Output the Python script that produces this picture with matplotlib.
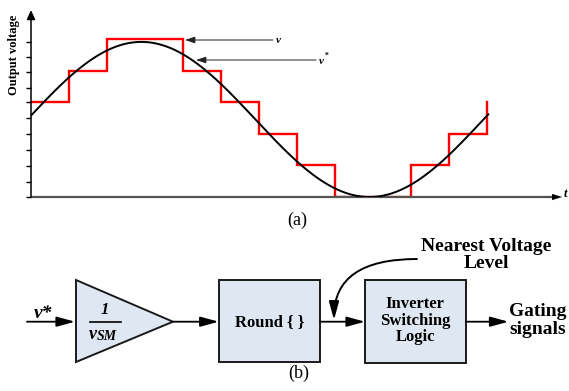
import numpy as np
import matplotlib.pyplot as plt
from matplotlib.patches import Polygon, Rectangle, FancyArrowPatch

plt.rcParams['font.family'] = ['Liberation Serif', 'DejaVu Serif']

# staircase output v: one level per sample interval (last entry = final jump)
step_edges = [0, 1, 2, 3, 4, 5, 6, 7, 8, 9, 10, 11, 12]
step_levels = [3, 4, 5, 5, 4, 3, 2, 1, 0, 0, 1, 2, 3]

# reference sinusoid v* (in level units)
ref_offset = 2.455
ref_amp = 2.455
ref_period = 12
ref_phase = 0.05
ref_t_end = 12.03

# tick marks on the voltage axis
tick_levels = [0, 0.49, 0.99, 1.49, 1.98, 2.49, 3.0, 3.44, 3.95, 4.42, 4.91]

# block diagram labels
block_labels = ["Round { }", "Inverter\nSwitching\nLogic"]

W, H = 569, 391
fig = plt.figure(figsize=(W / 100, H / 100), dpi=100)


def frac(x0, y0, x1, y1):
    # pixel box -> figure fraction
    return [x0 / W, 1 - y1 / H, (x1 - x0) / W, (y1 - y0) / H]


# ---- (a) waveform ----
ax = fig.add_axes(frac(31, 10, 562, 197))
ax.patch.set_visible(False)
ax.set_xlim(0, 13.97)
ax.set_ylim(0, 5.92)

ax.step(step_edges, step_levels, where='post', color='red', lw=1.7,
        solid_joinstyle='miter', zorder=2)
t = np.linspace(0, ref_t_end, 400)
v_ref = ref_offset + ref_amp * np.sin(2 * np.pi * t / ref_period + ref_phase)
ax.plot(t, v_ref, color='black', lw=1.4, zorder=3)

for s in ax.spines.values():
    s.set_visible(False)
ax.set_xticks([])
ax.set_yticks(tick_levels)
ax.tick_params(axis='y', direction='out', length=3.5, width=1, labelleft=False)

# axes with arrow heads
ax.annotate('', xy=(0, 1), xytext=(0, 0), xycoords='axes fraction',
            arrowprops=dict(arrowstyle='-|>,head_length=0.55,head_width=0.25',
                            lw=1.1, color='black', shrinkA=0, shrinkB=0))
ax.plot([0, 0.985], [0, 0], transform=ax.transAxes, color='#555555', lw=1.6,
        clip_on=False, solid_capstyle='butt')
ax.annotate('', xy=(1, 0), xytext=(0.97, 0), xycoords='axes fraction',
            arrowprops=dict(arrowstyle='-|>,head_length=0.7,head_width=0.22',
                            lw=0.1, color='black', shrinkA=0, shrinkB=0))

# ---- overlay for labels and block diagram (pixel coords) ----
ov = fig.add_axes([0, 0, 1, 1])
ov.set_xlim(0, W)
ov.set_ylim(H, 0)
ov.axis('off')

thin = dict(arrowstyle='-|>,head_length=0.6,head_width=0.2', lw=0.7,
            color='#222222', shrinkA=0, shrinkB=0)
ov.annotate('', xy=(185, 40), xytext=(273, 40), arrowprops=thin)
ov.text(276, 40.5, 'v', ha='left', va='center', fontsize=8, weight='bold', style='italic')
ov.annotate('', xy=(196, 60), xytext=(316, 60), arrowprops=thin)
ov.text(319, 61, 'v', ha='left', va='center', fontsize=8, weight='bold', style='italic')
ov.text(324.5, 56, '*', ha='left', va='center', fontsize=5.5, weight='bold')

ov.text(565, 194, 't', ha='center', va='center', fontsize=9, weight='bold', style='italic')
ov.text(14, 55, 'Output voltage', ha='center', va='center', rotation=90,
        fontsize=9, weight='bold')
ov.text(297, 220, '(a)', ha='center', va='center', fontsize=13)

# ---- (b) block diagram ----
fill = '#dfe7f3'
edge = '#1a1a1a'
ov.add_patch(Polygon([(76, 280), (76, 362), (173, 321.7)], closed=True,
                     fc=fill, ec=edge, lw=1.4))
ov.add_patch(Rectangle((218.7, 280), 101.3, 82.3, fc=fill, ec=edge, lw=1.4))
ov.add_patch(Rectangle((365, 280), 100.7, 82.7, fc=fill, ec=edge, lw=1.4))

bold_arrow = dict(arrowstyle='-|>,head_length=1.1,head_width=0.3', lw=1.3,
                  color='black', shrinkA=0, shrinkB=0)
for x0, x1 in [(27, 75), (173, 218.7), (320, 365), (465.7, 508.5)]:
    ov.add_patch(FancyArrowPatch((x0, 321.7), (x1, 321.7), mutation_scale=10,
                                 **{k: v for k, v in bold_arrow.items()}))

ov.text(43, 314, 'v*', ha='center', va='center', fontsize=14, weight='bold', style='italic')

# gain 1 / v_SM
ov.text(104.5, 309.5, '1', ha='center', va='center', fontsize=12, weight='bold', style='italic')
ov.plot([90, 121], [322, 322], color='black', lw=1.2)
ov.text(89, 339, 'v', ha='left', va='baseline', fontsize=13, weight='bold', style='italic')
ov.text(97, 340.5, 'SM', ha='left', va='baseline', fontsize=10, weight='bold', style='italic')

ov.text(269.3, 321.7, block_labels[0], ha='center', va='center', fontsize=12, weight='bold')
ov.text(415.3, 320.7, block_labels[1], ha='center', va='center', fontsize=12,
        weight='bold', linespacing=1.05)

ov.text(509.5, 320.5, 'Gating\nsignals', ha='left', va='center', fontsize=14,
        weight='bold', linespacing=1.0)

ov.text(486, 255, 'Nearest Voltage\nLevel', ha='center', va='center', fontsize=14,
        weight='bold', linespacing=1.0)
ov.add_patch(FancyArrowPatch((417, 259), (334, 320),
                             connectionstyle='angle3,angleA=0,angleB=90',
                             arrowstyle='-|>,head_length=1.1,head_width=0.3',
                             mutation_scale=10, lw=1.4, color='black',
                             shrinkA=0, shrinkB=0))

ov.text(299, 373.5, '(b)', ha='center', va='center', fontsize=13)

fig.savefig('out.png', dpi=100)
